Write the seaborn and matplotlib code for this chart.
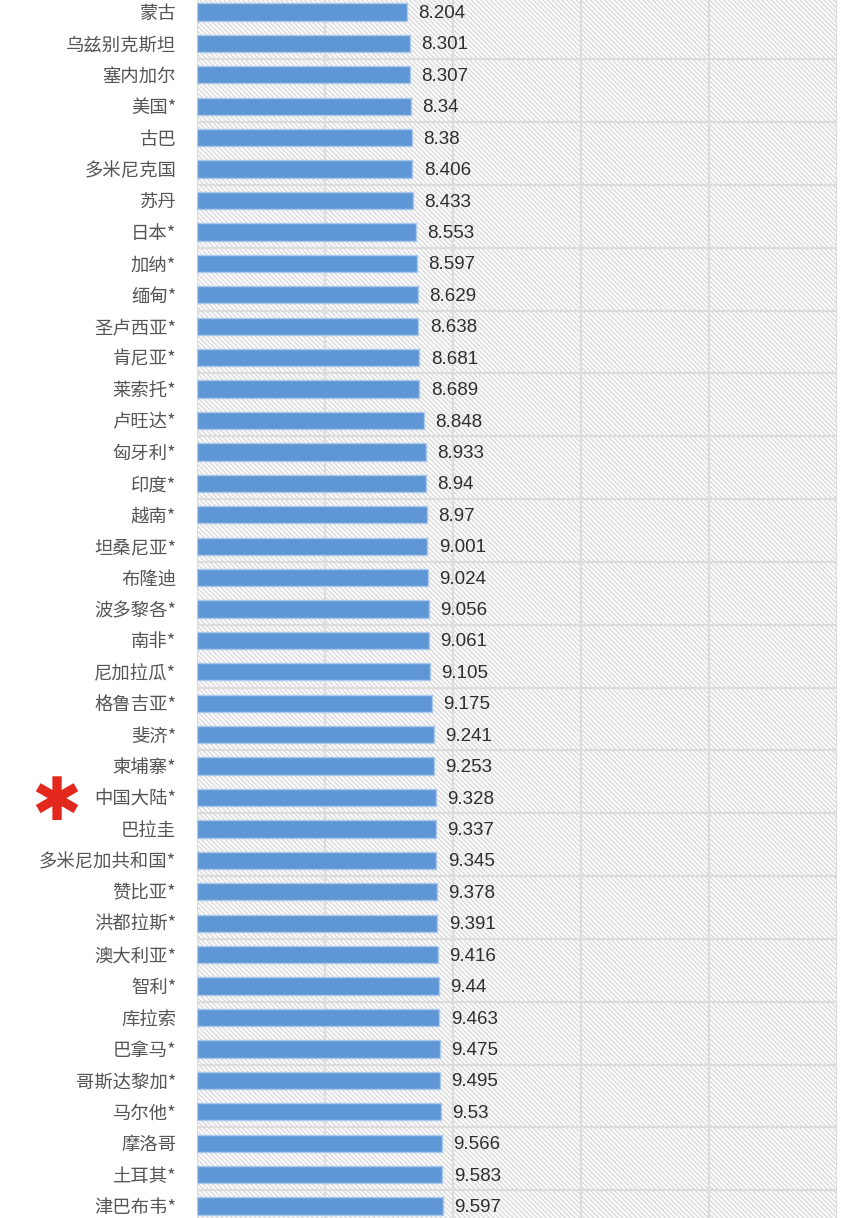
import matplotlib
matplotlib.use("Agg")
import matplotlib.pyplot as plt
import matplotlib.transforms as mtransforms
from matplotlib.patches import Rectangle
import seaborn as sns
import pandas as pd

countries = ["蒙古", "乌兹别克斯坦", "塞内加尔", "美国*", "古巴", "多米尼克国", "苏丹",
             "日本*", "加纳*", "缅甸*", "圣卢西亚*", "肯尼亚*", "莱索托*", "卢旺达*",
             "匈牙利*", "印度*", "越南*", "坦桑尼亚*", "布隆迪", "波多黎各*", "南非*",
             "尼加拉瓜*", "格鲁吉亚*", "斐济*", "柬埔寨*", "中国大陆*", "巴拉圭",
             "多米尼加共和国*", "赞比亚*", "洪都拉斯*", "澳大利亚*", "智利*", "库拉索",
             "巴拿马*", "哥斯达黎加*", "马尔他*", "摩洛哥", "土耳其*", "津巴布韦*"]
values = [8.204, 8.301, 8.307, 8.34, 8.38, 8.406, 8.433, 8.553, 8.597, 8.629,
          8.638, 8.681, 8.689, 8.848, 8.933, 8.94, 8.97, 9.001, 9.024, 9.056,
          9.061, 9.105, 9.175, 9.241, 9.253, 9.328, 9.337, 9.345, 9.378, 9.391,
          9.416, 9.44, 9.463, 9.475, 9.495, 9.53, 9.566, 9.583, 9.597]
value_labels = ["8.204", "8.301", "8.307", "8.34", "8.38", "8.406", "8.433", "8.553",
                "8.597", "8.629", "8.638", "8.681", "8.689", "8.848", "8.933", "8.94",
                "8.97", "9.001", "9.024", "9.056", "9.061", "9.105", "9.175", "9.241",
                "9.253", "9.328", "9.337", "9.345", "9.378", "9.391", "9.416", "9.44",
                "9.463", "9.475", "9.495", "9.53", "9.566", "9.583", "9.597"]
x_ticks = [0, 5, 10, 15, 20, 25]
highlight = "中国大陆*"

sns.set_theme(style="white")
plt.rcParams['font.family'] = ['Noto Sans CJK SC', 'DejaVu Sans']
plt.rcParams['hatch.linewidth'] = 0.8

df = pd.DataFrame({"country": countries, "value": values})

fig = plt.figure(figsize=(8.52, 12.18), dpi=100)
ax = fig.add_axes([197/852, 0.0, 640/852, 1.0])

ax.add_patch(Rectangle((0, 0), 1, 1, transform=ax.transAxes, facecolor="#fbfbfb",
                       edgecolor="#d6d6d6", hatch="\\" * 7, linewidth=0, zorder=0.1))

sns.barplot(data=df, x="value", y="country", orient="h", ax=ax, width=0.55,
            color="#5f96d5", edgecolor="#a9c8ec", linewidth=1.0, saturation=1, zorder=2)

n = len(countries)
ax.set_xlim(0, 25)
ax.set_ylim(n - 1 + 0.382, -0.382)
ax.set_xticks(x_ticks)
ax.set_xticklabels([])
ax.tick_params(axis="x", length=0)
ax.tick_params(axis="y", length=0, pad=15)
ax.xaxis.grid(True, color="#dcdcdc", linewidth=1.6)
ax.set_axisbelow(True)
for k in range(1, n - 1, 2):
    ax.axhline(k + 0.5, color="#dcdcdc", linewidth=1.6, zorder=0.5)
for s in ax.spines.values():
    s.set_visible(False)
ax.set_xlabel("")
ax.set_ylabel("")

for lbl in ax.get_yticklabels():
    lbl.set_fontsize(13.2)
    lbl.set_color("#555555")

for i, (v, t) in enumerate(zip(values, value_labels)):
    ax.text(v + 0.45, i + 0.05, t, va="center", ha="left", fontsize=13.5, color="#2e2e2e",
            family=["Liberation Sans", "DejaVu Sans"])

trans = mtransforms.blended_transform_factory(fig.transFigure, ax.transData)
hi = countries.index(highlight)
ax.text(56/852, hi + 0.2, "✱", transform=trans, ha="center", va="center", fontsize=43,
        color="#e2271d", family=["DejaVu Sans"], clip_on=False)

fig.savefig("out.png", dpi=100)
